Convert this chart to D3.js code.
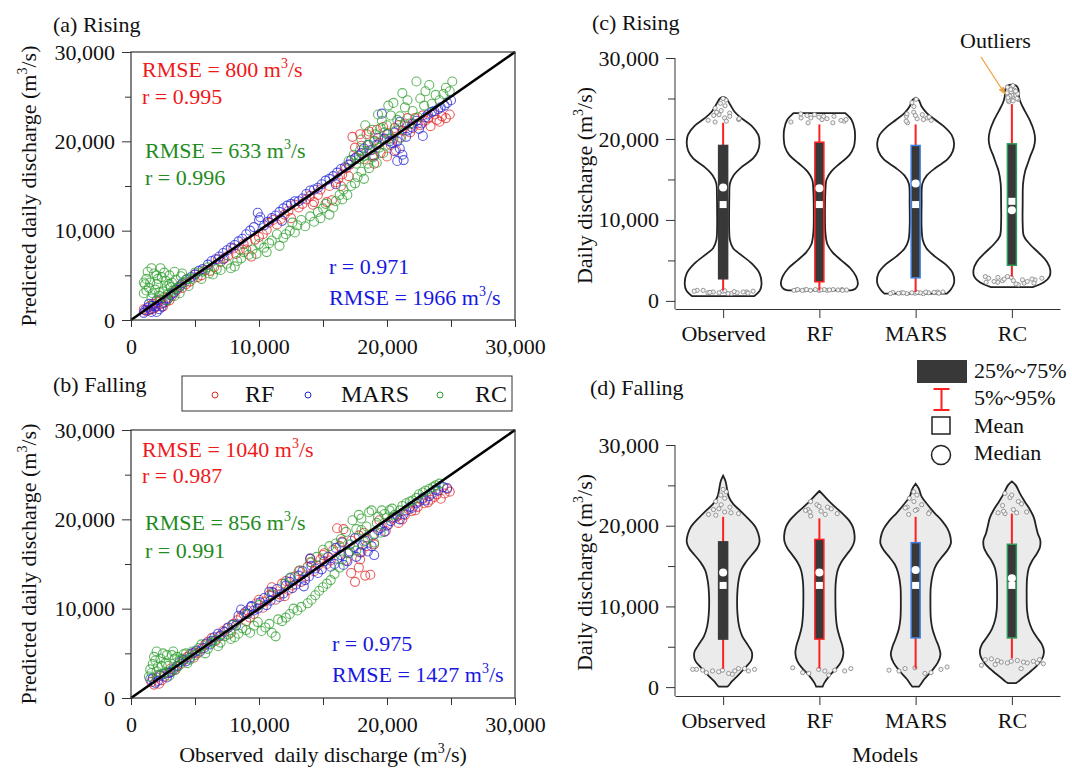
<!DOCTYPE html>
<html><head><meta charset="utf-8">
<script src="https://cdn.jsdelivr.net/npm/d3@7"></script>
<style>
body{margin:0;background:#fff;}
text{font-family:"Liberation Serif","Times New Roman",serif;}
</style></head><body>
<svg id="chart" width="1072" height="768"></svg>
<script>
// ================= DATA =================
// Scatter points [observed, predicted] in thousand m3/s
const rfRise = [[1.2,1.0],[1.5,1.6],[1.8,1.3],[2.1,2.0],[2.4,1.8],[2.8,2.5],[3.2,2.7],[3.6,3.4],[4.0,3.6],[4.6,4.3],[5.2,4.8],[5.8,5.6],[6.5,5.9],[7.0,6.5],[7.6,7.2],[8.2,7.4],[8.8,8.5],[9.4,7.1],[9.7,9.0],[10.3,9.6],[10.8,10.9],[11.4,10.7],[12.0,11.8],[12.5,11.4],[13.1,12.6],[13.7,13.5],[14.3,13.2],[14.8,14.6],[15.3,13.2],[15.7,13.4],[16.2,15.8],[16.8,17.0],[17.3,20.5],[17.6,18.2],[18.0,19.5],[18.4,20.8],[18.8,19.0],[19.2,21.3],[19.5,18.7],[19.8,20.2],[20.3,19.6],[20.6,21.5],[21.0,20.4],[21.4,22.0],[21.8,21.0],[22.2,22.6],[22.6,21.8],[23.0,22.3],[23.4,21.7],[23.9,22.4],[24.3,22.8],[24.9,23.0],[17.0,16.1],[19.0,17.5],[20.0,18.3],[12.8,12.9],[6.2,5.5],[3.0,2.2],[1.6,1.2],[2.5,1.5],[14.2,12.9],[9.0,7.9],
[1.0,1.2],[1.4,1.1],[1.7,1.8],[2.0,1.5],[2.3,2.3],[2.7,2.0],[3.4,3.1],[3.9,3.9],[4.3,4.0],[5.0,5.1],[5.5,5.0],[6.8,6.8],[7.3,6.9],[8.0,8.0],[8.5,7.9],[9.1,8.7],[10.0,9.3],[10.6,10.1],[11.1,11.2],[11.7,11.3],[12.3,12.2],[13.4,13.0],[14.0,13.9],[14.6,14.0],[15.5,15.0],[16.0,15.4],[16.5,16.3],[17.1,17.4],[17.5,19.3],[17.9,20.8],[18.2,18.0],[18.6,21.1],[19.0,20.1],[19.4,19.8],[19.7,21.6],[20.1,20.9],[20.5,20.3],[20.9,21.8],[21.2,21.2],[21.6,22.6],[22.0,21.5],[22.4,22.0],[22.8,22.9],[23.2,22.6],[23.7,23.0],[24.1,22.2],[24.6,22.6],[18.9,18.4],[20.7,19.0],[16.4,15.0]];
const marsRise = [[1.0,0.8],[1.3,1.4],[1.6,0.9],[1.9,1.5],[2.2,1.2],[2.5,1.9],[2.9,2.4],[3.3,3.0],[3.8,3.7],[4.3,4.5],[5.0,5.1],[5.6,5.7],[6.3,6.6],[6.9,7.1],[7.5,7.8],[8.1,8.4],[8.7,9.1],[9.3,10.0],[9.9,12.0],[10.4,10.6],[11.0,11.4],[11.6,12.1],[12.2,12.8],[12.8,13.3],[13.4,13.6],[14.0,14.5],[14.6,14.8],[15.2,15.6],[15.8,16.1],[16.4,16.9],[17.0,17.4],[17.5,18.1],[18.0,18.7],[18.5,19.6],[19.0,18.4],[19.6,23.1],[20.0,20.8],[20.4,19.8],[20.8,20.0],[21.3,17.9],[21.6,21.2],[22.0,22.0],[22.5,21.4],[23.0,22.7],[23.5,23.3],[24.0,23.6],[24.5,24.0],[25.0,24.6],[20.6,18.9],[19.3,20.4],[21.0,22.2],[16.0,15.2],[11.8,11.1],[7.2,6.8],[2.0,2.2],[1.4,1.8],[10.0,11.2],[22.8,20.6],
[1.1,1.1],[1.5,1.2],[1.7,1.6],[2.0,0.9],[2.4,1.5],[2.7,2.2],[3.1,2.8],[3.5,3.4],[4.0,4.1],[4.7,4.8],[5.3,5.5],[6.0,6.2],[6.6,6.8],[7.2,7.5],[7.8,8.1],[8.4,8.8],[9.0,9.6],[9.6,10.4],[10.1,11.5],[10.7,11.0],[11.3,11.7],[11.9,12.5],[12.5,13.0],[13.1,13.3],[13.7,14.1],[14.3,14.6],[14.9,15.2],[15.5,15.8],[16.1,16.5],[16.7,17.1],[17.2,17.9],[17.8,18.4],[18.2,19.2],[18.7,19.0],[19.2,19.6],[19.8,20.3],[20.2,20.0],[20.6,21.0],[21.0,19.2],[21.5,20.5],[21.9,21.6],[22.3,22.3],[22.7,22.0],[23.2,23.0],[23.7,23.4],[24.2,23.8],[24.7,24.3],[21.2,18.5],[20.8,17.8]];
const rcRise = [[1.0,3.0],[1.2,4.6],[1.4,3.6],[1.6,2.4],[1.8,5.2],[2.0,4.0],[2.2,3.1],[2.4,4.8],[2.6,2.6],[2.8,3.8],[3.0,5.0],[3.2,4.2],[3.4,2.7],[3.6,3.6],[3.9,4.9],[4.2,4.2],[1.3,5.4],[2.3,5.8],[1.7,3.0],[2.9,2.9],[4.5,3.8],[1.1,4.0],[2.0,5.0],[3.3,3.3],
[1.5,4.2],[1.9,3.4],[2.1,4.6],[2.5,3.2],[2.7,4.4],[3.1,3.7],[3.5,4.5],[3.8,3.0],[4.0,5.2],[1.2,3.3],[2.2,2.7],[2.6,5.3],[3.0,4.0],[1.6,5.8],[3.4,5.4],[4.4,4.6],[1.0,4.2],[2.8,2.2],
[5.0,5.3],[5.5,4.6],[6.0,5.9],[6.4,5.1],[7.0,5.6],[7.5,6.3],[8.1,6.0],[8.6,6.9],[9.2,7.3],[9.8,7.4],[10.4,8.1],[10.8,8.6],[11.4,9.6],[11.9,9.2],[12.4,10.0],[13.0,10.6],[13.6,10.5],[14.0,11.6],[14.6,12.1],[15.2,13.0],[15.8,12.6],[16.3,14.0],[16.6,14.6],[17.2,15.0],[17.7,16.0],[18.2,15.8],[18.6,17.0],[19.2,17.6],
[11.0,8.9],[12.1,9.6],[12.8,9.8],[13.3,11.2],[14.3,11.0],[15.0,12.5],[15.5,11.8],[16.0,13.3],[16.9,14.0],[17.5,15.3],[18.0,16.6],[10.0,8.5],[9.5,7.9],[8.8,7.6],[8.3,6.6],[7.8,5.8],[6.7,5.7],[6.1,5.2],[5.6,5.4],[4.8,4.6],[10.6,7.6],[12.6,10.9],[14.8,11.4],[16.5,13.5],[11.6,8.3],
[17.4,18.5],[17.9,19.0],[18.2,18.3],[18.6,19.6],[19.0,20.0],[19.4,19.3],[19.8,21.0],[20.2,20.3],[20.5,24.3],[20.8,22.4],[21.0,22.8],[21.4,23.8],[21.8,22.0],[22.3,26.7],[22.6,24.8],[23.0,25.6],[23.5,24.2],[24.1,24.6],[24.6,26.0],[25.1,26.7],[18.8,21.3],[19.6,22.3],[20.0,21.8],[21.2,25.4],
[17.0,17.8],[17.6,17.5],[18.0,20.2],[18.4,18.9],[18.9,18.2],[19.1,20.8],[19.5,21.5],[19.9,19.5],[20.3,22.9],[20.7,21.2],[21.1,20.4],[21.6,24.6],[22.0,23.4],[22.4,22.7],[22.9,24.0],[23.3,26.3],[23.8,25.2],[24.4,25.3],[24.9,25.6],[18.3,21.8],[19.3,23.0],[20.1,24.0],[21.4,21.8],[17.8,18.0],[18.5,17.5],[19.7,18.7]];
const rfFall = [[1.6,1.8],[2.0,2.3],[2.4,2.0],[2.9,2.8],[3.4,3.1],[3.9,3.8],[4.4,4.6],[4.9,4.5],[5.5,5.5],[6.0,6.3],[6.6,6.4],[7.2,7.5],[7.8,7.3],[8.3,8.7],[8.8,9.4],[9.3,9.0],[9.8,10.6],[10.3,10.1],[10.8,11.5],[11.3,11.0],[11.8,12.8],[12.3,12.1],[12.8,13.6],[13.3,13.0],[13.8,14.7],[14.3,14.2],[14.8,15.5],[15.3,15.0],[15.8,16.6],[16.1,19.0],[16.5,17.5],[17.0,16.2],[17.5,13.0],[17.8,14.6],[18.2,18.5],[18.7,13.8],[19.0,17.2],[19.4,19.9],[19.9,18.7],[20.4,20.1],[20.9,19.6],[21.4,20.5],[21.9,20.9],[22.4,21.4],[22.9,21.8],[23.4,22.2],[23.9,22.8],[24.5,22.9],[24.9,23.1],[12.0,11.4],[15.0,16.0],[9.0,8.6],[5.0,5.1],[2.2,1.6],[16.8,15.4],[18.0,16.3],[11.0,12.4],[14.0,15.6],
[1.8,1.5],[2.2,2.6],[2.6,2.4],[3.1,3.3],[3.6,3.5],[4.1,4.2],[4.6,4.9],[5.2,5.0],[5.8,6.0],[6.3,6.7],[6.9,6.9],[7.5,7.8],[8.0,8.3],[8.6,9.1],[9.1,9.8],[9.6,9.4],[10.0,11.0],[10.5,10.8],[11.0,11.9],[11.6,11.6],[12.1,13.1],[12.6,12.6],[13.1,14.2],[13.6,13.6],[14.1,15.2],[14.6,14.8],[15.1,16.2],[15.6,15.4],[16.3,17.0],[16.6,18.9],[17.2,17.6],[17.8,18.2],[18.4,17.0],[18.9,18.2],[19.6,19.2],[20.1,19.4],[20.7,20.2],[21.2,20.0],[21.7,21.1],[22.2,21.0],[22.7,22.2],[23.2,21.9],[23.7,22.5],[24.2,22.3],[24.7,23.4],[17.2,14.0],[18.3,13.7],[17.9,15.5]];
const marsFall = [[1.5,2.1],[1.9,1.7],[2.3,2.5],[2.8,2.3],[3.3,3.2],[3.8,4.0],[4.3,4.1],[4.8,5.0],[5.4,5.2],[5.9,6.1],[6.5,6.8],[7.0,7.0],[7.6,7.9],[8.2,8.1],[8.6,9.9],[9.1,9.4],[9.6,9.8],[10.1,10.7],[10.6,10.4],[11.1,11.8],[11.6,11.3],[12.1,12.6],[12.6,12.3],[13.1,13.7],[13.6,13.2],[14.1,14.8],[14.6,14.0],[15.1,15.3],[15.6,14.7],[16.1,15.6],[16.6,14.9],[17.1,16.4],[17.6,15.8],[18.1,17.1],[18.5,16.4],[19.0,18.3],[19.5,19.0],[20.0,19.3],[20.5,20.2],[21.0,20.0],[21.5,21.0],[22.0,21.3],[22.5,22.0],[23.0,22.1],[23.5,22.9],[24.0,23.2],[24.7,23.5],[13.5,12.5],[16.0,16.8],[10.8,11.9],[6.2,6.0],[3.0,2.8],[17.5,17.9],[12.4,13.4],[9.4,10.3],
[1.7,2.2],[2.1,1.9],[2.6,2.7],[3.1,2.9],[3.6,3.6],[4.1,4.3],[4.6,4.5],[5.1,5.3],[5.7,5.6],[6.3,6.4],[6.8,7.2],[7.3,7.4],[7.9,8.2],[8.4,9.2],[8.9,9.6],[9.4,10.2],[9.9,10.0],[10.4,11.2],[10.9,10.9],[11.4,12.2],[11.9,11.7],[12.4,13.0],[12.9,12.7],[13.4,14.2],[13.9,13.6],[14.4,14.5],[14.9,14.4],[15.4,15.8],[15.9,15.0],[16.4,16.0],[16.9,15.3],[17.4,16.9],[17.9,16.3],[18.3,17.6],[18.8,17.0],[19.3,18.8],[19.8,18.6],[20.3,19.8],[20.8,20.4],[21.3,20.6],[21.8,21.4],[22.3,21.8],[22.8,22.4],[23.3,22.6],[23.8,23.3],[24.4,23.6],[19.0,16.0],[16.5,17.4],[14.0,15.6]];
const rcFall = [[1.4,2.4],[1.7,3.8],[2.0,3.0],[2.3,4.4],[2.6,2.8],[2.9,3.6],[3.2,4.8],[3.5,3.2],[3.8,4.2],[4.1,4.9],[4.4,3.9],[4.8,5.2],[1.8,4.6],[2.5,5.0],[3.0,2.5],[2.1,3.5],[3.6,4.6],
[1.5,3.2],[1.9,4.2],[2.2,2.6],[2.7,3.9],[3.1,3.0],[3.4,4.4],[3.7,3.6],[4.0,4.4],[4.3,5.0],[4.6,4.3],[5.0,4.8],[1.6,2.8],[2.4,3.6],[2.8,4.8],[3.3,5.2],[2.0,5.2],
[5.3,5.6],[5.8,5.0],[6.3,6.2],[6.8,5.8],[7.3,6.9],[7.8,6.6],[8.4,7.2],[9.0,7.6],[9.6,8.1],[10.2,7.5],[10.8,8.3],[11.3,6.9],[11.8,8.6],[12.4,9.4],[13.0,9.8],[13.8,10.6],[14.4,11.5],[15.0,12.4],[15.6,13.2],
[5.5,6.0],[6.0,5.5],[6.6,6.5],[7.0,6.2],[7.6,7.1],[8.1,6.8],[8.7,7.8],[9.3,7.3],[9.9,8.5],[10.5,7.9],[11.0,7.3],[11.5,8.8],[12.1,9.0],[12.7,10.0],[13.3,10.2],[14.1,11.0],[14.7,12.0],[15.3,12.8],[15.9,13.9],[16.3,14.6],
[9.0,9.4],[11.0,11.6],[12.5,13.5],[14.0,15.2],[15.0,16.6],[16.0,17.3],[12.0,12.8],[13.2,14.3],[14.5,15.8],[15.5,17.0],[16.4,17.8],[10.0,10.4],[8.0,8.2],
[16.5,15.5],[17.0,16.2],[17.3,19.9],[17.8,20.5],[18.2,17.5],[18.6,20.8],[19.2,19.6],[19.6,21.0],[20.0,20.2],[20.4,21.2],[21.0,21.0],[21.5,21.8],[22.0,22.1],[22.5,22.8],[23.0,23.2],[23.6,23.6],[24.1,24.0],[19.0,17.4],[18.0,18.8],
[16.8,18.6],[17.1,17.2],[17.6,18.9],[18.0,20.1],[18.4,19.2],[18.8,21.0],[19.3,20.3],[19.8,20.6],[20.2,21.0],[20.6,20.5],[21.2,21.5],[21.8,22.0],[22.3,22.4],[22.8,23.0],[23.3,23.4],[23.8,23.8],[17.6,16.5],[18.5,17.8],[19.5,18.5]];

// Goodness-of-fit statistics: [RF, RC, MARS]
const rmseRise = [800, 633, 1966];
const rRise = [0.995, 0.996, 0.971];
const rmseFall = [1040, 856, 1427];
const rFall = [0.987, 0.991, 0.975];

// Violin / box data (thousand m3/s)
const models = ["Observed", "RF", "MARS", "RC"];
const riseP95 = [22.0, 21.8, 21.8, 24.3];
const riseQ3 = [19.2, 19.6, 19.2, 19.4];
const riseMedian = [14.0, 13.9, 14.5, 11.2];
const riseMean = [11.9, 11.9, 11.9, 12.3];
const riseQ1 = [2.73, 2.36, 2.85, 4.4];
const riseP5 = [1.3, 1.3, 1.1, 3.0];
const fallP95 = [21.1, 20.9, 21.1, 21.5];
const fallQ3 = [18.0, 18.3, 17.9, 17.7];
const fallMedian = [14.2, 14.2, 14.5, 13.5];
const fallMean = [12.6, 12.6, 12.6, 12.6];
const fallQ1 = [5.95, 5.95, 6.1, 6.1];
const fallP5 = [2.3, 2.3, 2.3, 3.55];

// Density profiles [value, relative density]
const riseDensity = [
 [[25.2,0],[25.0,0.08],[24.3,0.17],[23.4,0.28],[22.6,0.45],[21.6,0.72],[20.5,0.88],[19.5,0.91],[18.5,0.87],[17.6,0.75],[16.6,0.48],[15.5,0.26],[14.5,0.17],[13.0,0.155],[11.0,0.15],[9.0,0.15],[7.5,0.17],[6.5,0.25],[5.9,0.39],[4.6,0.72],[3.4,0.91],[2.1,0.96],[1.3,0.92],[0.6,0.78]],
 [[23.2,0.64],[22.4,0.80],[21.2,0.88],[20.0,0.89],[19.0,0.86],[18.0,0.75],[17.0,0.52],[16.0,0.30],[15.0,0.18],[13.5,0.15],[11.0,0.14],[8.5,0.15],[7.0,0.20],[6.0,0.33],[5.0,0.55],[4.0,0.78],[3.0,0.92],[2.0,0.96],[1.5,0.90],[1.3,0.79]],
 [[25.1,0],[24.8,0.08],[24.0,0.15],[23.2,0.28],[22.4,0.48],[21.5,0.72],[20.5,0.90],[19.5,0.96],[18.5,0.93],[17.5,0.80],[16.5,0.52],[15.5,0.28],[14.5,0.17],[12.0,0.15],[9.0,0.15],[7.5,0.18],[6.5,0.27],[5.5,0.48],[4.5,0.75],[3.4,0.93],[2.2,0.96],[1.4,0.88],[0.9,0.78]],
 [[26.7,0],[26.6,0.10],[26.2,0.16],[25.2,0.18],[24.5,0.22],[23.5,0.32],[22.3,0.45],[21.0,0.55],[20.0,0.58],[19.0,0.55],[18.0,0.47],[17.0,0.40],[16.0,0.33],[14.5,0.28],[12.0,0.27],[9.5,0.27],[8.0,0.30],[7.0,0.45],[5.9,0.68],[4.8,0.88],[3.8,0.96],[3.0,0.94],[2.3,0.80],[1.7,0.52]]
];
const fallDensity = [
 [[26.2,0],[25.5,0.06],[24.5,0.10],[23.6,0.14],[22.7,0.25],[21.9,0.42],[20.9,0.62],[19.9,0.80],[19.0,0.88],[18.0,0.91],[17.2,0.85],[16.4,0.72],[15.5,0.57],[14.5,0.45],[13.0,0.38],[11.0,0.35],[9.0,0.36],[7.5,0.40],[6.3,0.48],[5.2,0.62],[4.3,0.72],[3.3,0.70],[2.4,0.55],[1.5,0.38],[0.7,0.22],[0.1,0.12],[0.05,0.10]],
 [[24.3,0],[23.8,0.10],[23.2,0.21],[22.3,0.40],[21.5,0.58],[20.6,0.75],[19.8,0.84],[18.8,0.88],[18.0,0.87],[17.2,0.80],[16.4,0.68],[15.5,0.55],[14.5,0.46],[13.0,0.41],[11.0,0.40],[9.0,0.41],[7.5,0.44],[6.3,0.50],[5.2,0.57],[4.2,0.60],[3.2,0.55],[2.3,0.42],[1.4,0.25],[0.5,0.12],[0.05,0.08]],
 [[25.2,0],[24.6,0.08],[23.6,0.15],[22.6,0.30],[21.6,0.47],[20.6,0.66],[19.6,0.80],[18.6,0.87],[17.8,0.88],[17.0,0.80],[16.2,0.67],[15.2,0.52],[14.2,0.44],[12.5,0.38],[10.5,0.37],[8.5,0.38],[7.2,0.42],[6.0,0.50],[5.0,0.58],[4.0,0.62],[3.0,0.55],[2.0,0.40],[1.0,0.22],[0.3,0.12],[0.05,0.08]],
 [[25.5,0],[25.0,0.10],[24.0,0.20],[23.0,0.32],[22.0,0.45],[21.0,0.55],[20.0,0.60],[19.0,0.65],[18.2,0.71],[17.3,0.70],[16.5,0.62],[15.6,0.50],[14.7,0.42],[13.5,0.38],[11.5,0.37],[9.5,0.38],[8.3,0.42],[7.2,0.50],[6.2,0.62],[5.3,0.75],[4.5,0.80],[3.8,0.78],[2.9,0.67],[2.0,0.48],[1.2,0.28],[0.65,0.15],[0.5,0.10]]
];
// Outlier values beyond the 5%-95% range
const riseOutHigh = [
 [22.1,22.4,22.6,22.9,23.2,23.5,23.8,24.1,24.4,24.8,25.0,22.3,22.8,23.0,22.5,22.2,23.3],
 [22.0,22.2,22.4,22.6,22.8,23.0,22.1,22.5,22.9,22.3,22.7,23.1,22.0,22.6,22.4,22.8],
 [22.0,22.3,22.5,22.8,23.0,23.3,24.5,24.9,22.2,22.6,22.9,23.1,22.4,24.0,22.7],
 [24.6,24.9,25.2,25.5,25.8,26.1,26.4,26.6,24.8,25.0,25.4,25.7,26.0,25.3,25.6,24.7,25.1,25.9]
];
const riseOutLow = [
 [0.9,1.0,1.1,1.2,1.3,1.0,1.1,1.2,0.9,1.3,1.1,1.0,1.2,1.15,1.05,0.95,1.25],
 [1.3,1.35,1.4,1.3,1.35,1.4,1.3,1.35,1.4,1.3,1.35,1.4,1.3,1.35,1.4,1.3,1.35,1.4],
 [0.9,1.0,1.1,0.95,1.05,1.0,0.9,1.1,1.0,0.95,1.05,1.0,0.9,1.1,1.0,0.95,1.05],
 [2.0,2.3,2.6,2.9,3.0,2.2,2.5,2.8,2.1,2.4,2.7,3.0,2.3,2.6,2.9,2.2,2.5,2.8,2.4,2.7]
];
const fallOutHigh = [
 [21.3,21.5,21.7,22.0,22.3,22.6,23.0,23.4,23.8,24.2,24.5,21.4,21.6,22.1],
 [21.2,21.5,21.8,22.0,22.3,22.6,23.0,21.4,21.7,22.1,22.4,21.9],
 [21.4,21.7,22.0,22.3,22.6,23.0,23.4,23.8,24.2,21.5,21.9,22.2],
 [21.5,21.7,22.0,22.5,23.0,23.5,24.0,21.6,21.8,22.7,23.8,21.6]
];
const fallOutLow = [
 [1.6,1.8,2.0,2.1,2.2,2.3,2.0,2.2,1.7,2.1,2.3,1.9,2.2,2.0],
 [1.5,1.8,2.0,2.2,2.4,2.1,1.7,2.3,2.0],
 [1.7,2.0,2.2,2.4,2.1,1.8,2.3,2.5],
 [2.3,2.8,3.0,3.2,3.4,3.0,3.1,2.9,3.3,3.5,3.2,3.0,2.7,3.1,3.3,3.4]
];

const majorTicks = [0, 10000, 20000, 30000];
const minorTicks = [5000, 15000, 25000];

// ================= STYLE =================
const FONT = "Liberation Serif, Times New Roman, serif";
const FS = 22;
const RED = "#ee1a1a", GREEN = "#228b22", BLUE = "#1818e0";
const MRED = "#e02a2a", MBLUE = "#2525d5", MGREEN = "#2f9f2f";
const boxStroke = ["#3a3a3a", "#ff2020", "#3f80e0", "#2e9a58"];
const fmt = d3.format(",");
const svg = d3.select("#chart");

function styleAxis(g) {
  g.attr("font-family", FONT).attr("font-size", FS);
  g.selectAll("text").attr("fill", "#111");
  g.selectAll("line").attr("stroke", "#333");
  g.selectAll("path.domain").attr("stroke", "#333");
}

function unitText(parent, x, y, prefix, color, opts = {}) {
  const t = parent.append("text").attr("x", x).attr("y", y)
    .attr("font-family", FONT).attr("font-size", opts.size || FS).attr("fill", color)
    .attr("text-anchor", opts.anchor || "start").style("white-space", "pre");
  if (opts.transform) t.attr("transform", opts.transform);
  t.append("tspan").text(prefix + "m");
  t.append("tspan").attr("dy", -9).attr("font-size", 14).text("3");
  t.append("tspan").attr("dy", 9).text("/s" + (opts.suffix || ""));
  return t;
}

// ================= SCATTER PANELS =================
const xS = d3.scaleLinear().domain([0, 30000]).range([131, 515]);

function scatterPanel(top, bottom, series, rmse, r, ann) {
  const y = d3.scaleLinear().domain([0, 30000]).range([bottom, top]);
  const g = svg.append("g");
  series.forEach(s => {
    g.append("g").selectAll("circle").data(s.data).join("circle")
      .attr("cx", d => xS(d[0] * 1000)).attr("cy", d => y(d[1] * 1000)).attr("r", 4.5)
      .attr("fill", "none").attr("stroke", s.color).attr("stroke-width", 1.1).attr("stroke-opacity", 0.75);
  });
  g.append("line").attr("x1", xS(0)).attr("y1", y(0)).attr("x2", xS(30000)).attr("y2", y(30000))
    .attr("stroke", "#000").attr("stroke-width", 2.6);
  g.append("rect").attr("x", xS(0)).attr("y", y(30000)).attr("width", xS(30000) - xS(0))
    .attr("height", y(0) - y(30000)).attr("fill", "none").attr("stroke", "#333").attr("stroke-width", 1.2);
  const ay = g.append("g").attr("transform", `translate(${xS(0)},0)`)
    .call(d3.axisLeft(y).tickValues(majorTicks).tickFormat(fmt).tickSize(9).tickPadding(7).tickSizeOuter(0));
  ay.select(".domain").remove(); styleAxis(ay);
  const aym = g.append("g").attr("transform", `translate(${xS(0)},0)`)
    .call(d3.axisLeft(y).tickValues(minorTicks).tickFormat("").tickSize(6).tickSizeOuter(0));
  aym.select(".domain").remove(); styleAxis(aym);
  const ax = g.append("g").attr("transform", `translate(0,${y(0)})`)
    .call(d3.axisBottom(xS).tickValues(majorTicks).tickFormat(fmt).tickSize(7).tickPadding(11).tickSizeOuter(0));
  ax.select(".domain").remove(); styleAxis(ax);
  const axm = g.append("g").attr("transform", `translate(0,${y(0)})`)
    .call(d3.axisBottom(xS).tickValues(minorTicks).tickFormat("").tickSize(7).tickSizeOuter(0));
  axm.select(".domain").remove(); styleAxis(axm);
  unitText(g, 142, ann[0], `RMSE = ${rmse[0]} `, RED);
  g.append("text").attr("x", 142).attr("y", ann[1]).attr("font-family", FONT).attr("font-size", FS).attr("fill", RED).text(`r = ${r[0].toFixed(3)}`);
  unitText(g, 145, ann[2], `RMSE = ${rmse[1]} `, GREEN);
  g.append("text").attr("x", 145).attr("y", ann[3]).attr("font-family", FONT).attr("font-size", FS).attr("fill", GREEN).text(`r = ${r[1].toFixed(3)}`);
  g.append("text").attr("x", ann[6]).attr("y", ann[4]).attr("font-family", FONT).attr("font-size", FS).attr("fill", BLUE).text(`r = ${r[2].toFixed(3)}`);
  unitText(g, ann[6], ann[5], `RMSE = ${rmse[2]} `, BLUE);
  unitText(g, 0, 0, "Predicted daily discharge (", "#111", { anchor: "middle", suffix: ")", transform: `translate(36,${(top + bottom) / 2}) rotate(-90)` });
  return y;
}

scatterPanel(52, 320, [
  { data: rfRise, color: MRED }, { data: marsRise, color: MBLUE }, { data: rcRise, color: MGREEN }
], rmseRise, rRise, [77, 104, 158, 185, 274, 305, 329]);

scatterPanel(430, 698, [
  { data: rfFall, color: MRED }, { data: marsFall, color: MBLUE }, { data: rcFall, color: MGREEN }
], rmseFall, rFall, [457, 483, 530, 558, 651, 682, 332]);

const titles = [["(a) Rising", 53, 32], ["(b) Falling", 53, 392], ["(c) Rising", 592, 30], ["(d) Falling", 590, 395]];
svg.selectAll("text.ttl").data(titles).join("text").attr("class", "ttl")
  .attr("x", d => d[1]).attr("y", d => d[2]).attr("font-family", FONT).attr("font-size", FS).attr("fill", "#111").text(d => d[0]);

unitText(svg, 323, 762, "Observed  daily discharge (", "#111", { anchor: "middle", suffix: ")" });

const lg = svg.append("g");
lg.append("rect").attr("x", 182).attr("y", 376).attr("width", 330).attr("height", 35).attr("fill", "#fff").attr("stroke", "#333").attr("stroke-width", 1);
const legItems = [["RF", MRED, 215, 245], ["MARS", MBLUE, 308, 341], ["RC", MGREEN, 440, 475]];
legItems.forEach(d => {
  lg.append("circle").attr("cx", d[2]).attr("cy", 395).attr("r", 3).attr("fill", "none").attr("stroke", d[1]).attr("stroke-width", 1);
  lg.append("text").attr("x", d[3]).attr("y", 402).attr("font-family", FONT).attr("font-size", 24).attr("fill", "#111").text(d[0]);
});

// ================= VIOLIN PANELS =================
const xV = d3.scalePoint().domain(models).range([675, 1060]).padding(0.5);
const W = 40;

function frac(i) { return (i * 0.61803398875 + 0.31) % 1; }

function violinPanel(yTop, yBottom, yMin, dens, p95, q3, med, mean, q1, p5, outHi, outLo, fill, loSpread) {
  const y = d3.scaleLinear().domain([yMin, 30000]).range([yBottom, yTop]);
  const g = svg.append("g");
  const ay = g.append("g").attr("transform", "translate(675,0)")
    .call(d3.axisLeft(y).tickValues(majorTicks).tickFormat(fmt).tickSize(9).tickPadding(7).tickSizeOuter(0));
  ay.select(".domain").attr("d", `M0,${y(30000)}V${yBottom}`);
  styleAxis(ay);
  const aym = g.append("g").attr("transform", "translate(675,0)")
    .call(d3.axisLeft(y).tickValues(minorTicks).tickFormat("").tickSize(7).tickSizeOuter(0));
  aym.select(".domain").remove(); styleAxis(aym);
  const ax = g.append("g").attr("transform", `translate(0,${yBottom})`)
    .call(d3.axisBottom(xV).tickSize(9).tickPadding(7).tickSizeOuter(0));
  styleAxis(ax);
  unitText(g, 0, 0, "Daily discharge (", "#111", { anchor: "middle", suffix: ")", transform: `translate(592,${(yTop + yBottom) / 2 + 2}) rotate(-90)` });

  models.forEach((m, i) => {
    const cx = xV(m);
    const prof = dens[i];
    const area = d3.area().curve(d3.curveCatmullRom)
      .y(d => y(d[0] * 1000)).x0(d => cx - d[1] * W).x1(d => cx + d[1] * W);
    g.append("path").attr("d", area(prof)).attr("fill", fill).attr("stroke", "#222").attr("stroke-width", 1.8);
    const sorted = prof.slice().sort((a, b) => a[0] - b[0]);
    const hw = d3.scaleLinear().domain(sorted.map(d => d[0])).range(sorted.map(d => d[1])).clamp(true);
    const pts = outHi[i].map((v, k) => [v, (frac(k) * 2 - 1) * hw(v) * W * 0.9])
      .concat(outLo[i].map((v, k) => [v, (frac(k + 7) * 2 - 1) * Math.max(hw(v) * W * 0.9, loSpread)]));
    g.append("g").selectAll("circle").data(pts).join("circle")
      .attr("cx", d => cx + d[1]).attr("cy", d => y(d[0] * 1000)).attr("r", 2.1)
      .attr("fill", "#f4f4f4").attr("stroke", "#808080").attr("stroke-width", 0.8);
    g.append("line").attr("x1", cx).attr("x2", cx).attr("y1", y(p95[i] * 1000)).attr("y2", y(p5[i] * 1000))
      .attr("stroke", "#ff1f1f").attr("stroke-width", 2);
    g.append("rect").attr("x", cx - 4.5).attr("width", 9).attr("y", y(q3[i] * 1000)).attr("height", y(q1[i] * 1000) - y(q3[i] * 1000))
      .attr("fill", "#383838").attr("stroke", boxStroke[i]).attr("stroke-width", 1.5);
    g.append("rect").attr("x", cx - 3.5).attr("width", 7).attr("y", y(mean[i] * 1000) - 3.5).attr("height", 7).attr("fill", "#fff");
    g.append("circle").attr("cx", cx).attr("cy", y(med[i] * 1000)).attr("r", 4).attr("fill", "#fff");
  });
  return y;
}

violinPanel(58, 309, -1000, riseDensity, riseP95, riseQ3, riseMedian, riseMean, riseQ1, riseP5, riseOutHigh, riseOutLow, "#fff", 0);
violinPanel(445, 696, -1100, fallDensity, fallP95, fallQ3, fallMedian, fallMean, fallQ1, fallP5, fallOutHigh, fallOutLow, "#ebebeb", 34);

const defs = svg.append("defs");
defs.append("marker").attr("id", "arr").attr("viewBox", "0 0 10 10").attr("refX", 9).attr("refY", 5)
  .attr("markerWidth", 6).attr("markerHeight", 6).attr("orient", "auto")
  .append("path").attr("d", "M0,1L10,5L0,9Z").attr("fill", "#f0a040");
svg.append("line").attr("x1", 981).attr("y1", 57).attr("x2", 1005).attr("y2", 94)
  .attr("stroke", "#f0a040").attr("stroke-width", 1.3).attr("marker-end", "url(#arr)");
svg.append("text").attr("x", 960).attr("y", 48).attr("font-family", FONT).attr("font-size", FS).attr("fill", "#111").text("Outliers");

const bl = svg.append("g");
bl.append("rect").attr("x", 917).attr("y", 360).attr("width", 50).attr("height", 23).attr("fill", "#383838");
bl.append("line").attr("x1", 941.5).attr("x2", 941.5).attr("y1", 389).attr("y2", 410).attr("stroke", "#ff1f1f").attr("stroke-width", 2);
bl.append("line").attr("x1", 933.5).attr("x2", 949.5).attr("y1", 389).attr("y2", 389).attr("stroke", "#ff1f1f").attr("stroke-width", 2);
bl.append("line").attr("x1", 933.5).attr("x2", 949.5).attr("y1", 410).attr("y2", 410).attr("stroke", "#ff1f1f").attr("stroke-width", 2);
bl.append("rect").attr("x", 932).attr("y", 417).attr("width", 18).attr("height", 17).attr("fill", "none").attr("stroke", "#222").attr("stroke-width", 1.5);
bl.append("circle").attr("cx", 941).attr("cy", 455).attr("r", 9.5).attr("fill", "none").attr("stroke", "#222").attr("stroke-width", 1.5);
const legText = [["25%~75%", 378], ["5%~95%", 405], ["Mean", 433], ["Median", 460]];
bl.selectAll("text").data(legText).join("text").attr("x", 974).attr("y", d => d[1])
  .attr("font-family", FONT).attr("font-size", FS).attr("fill", "#111").text(d => d[0]);

svg.append("text").attr("x", 885).attr("y", 762).attr("text-anchor", "middle").attr("font-family", FONT).attr("font-size", FS).attr("fill", "#111").text("Models");
</script>
</body></html>
